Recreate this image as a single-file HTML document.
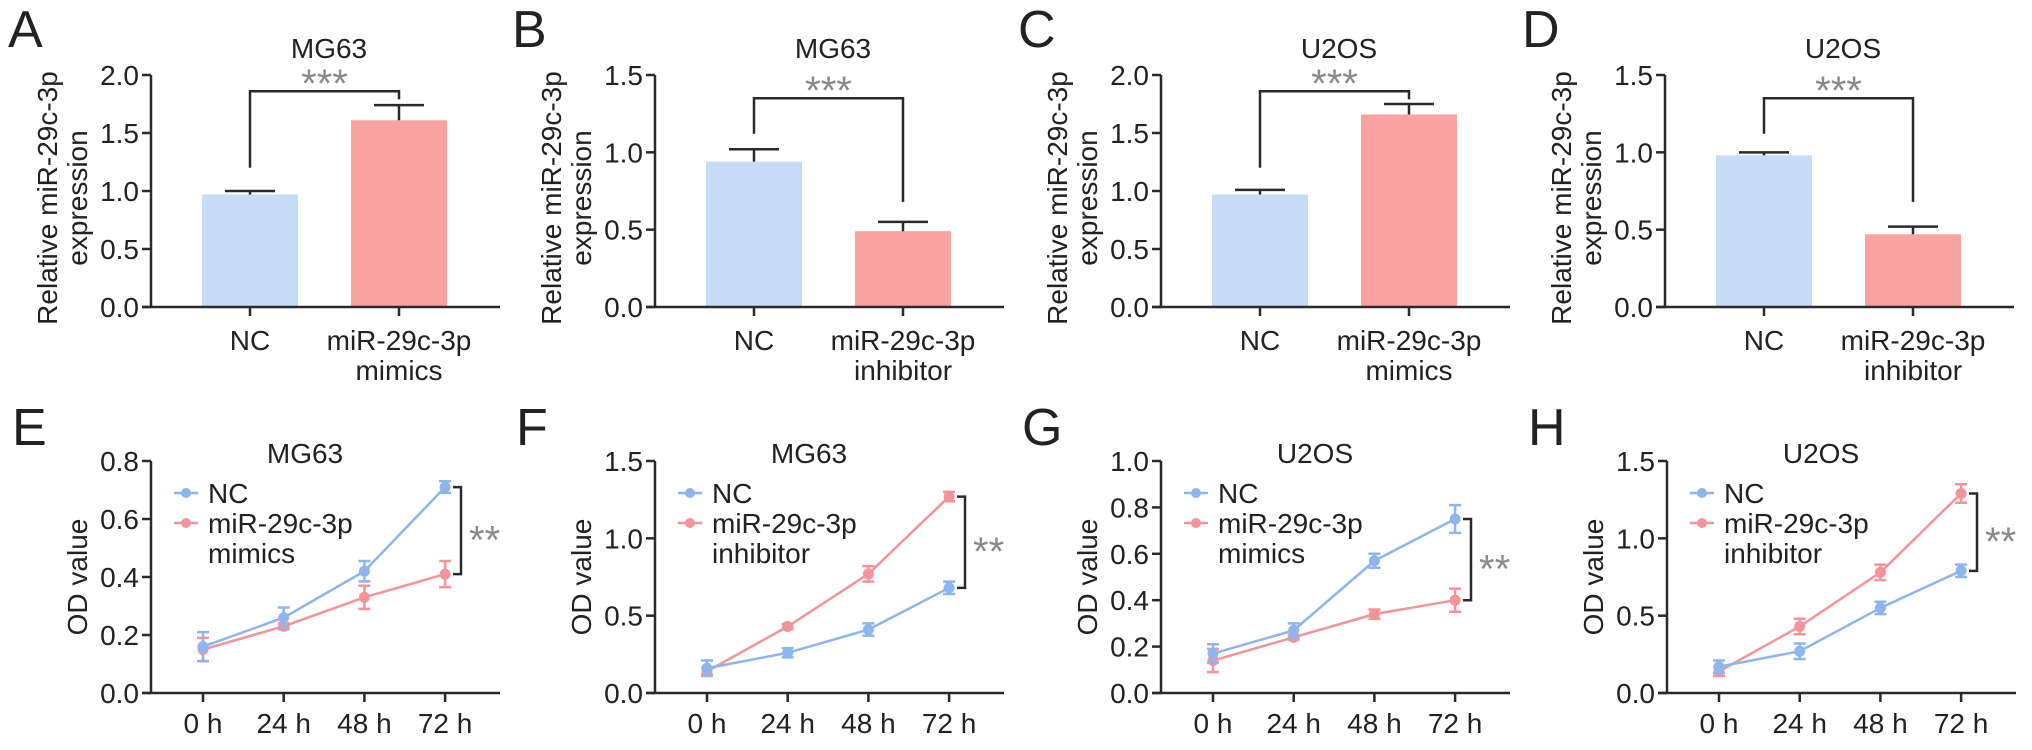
<!DOCTYPE html>
<html><head><meta charset="utf-8">
<style>
body{margin:0;background:#fff;}
svg text{font-family:"Liberation Sans",Arial,sans-serif;fill:#222;}
svg text.star{fill:#8a8a8a;}
</style></head>
<body>
<svg id="fig" width="2032" height="745" viewBox="0 0 2032 745" xmlns="http://www.w3.org/2000/svg"></svg>
<script>
// ---- bar panel data ----
const barLetters = ["A","B","C","D"];
const barTitles = ["MG63","MG63","U2OS","U2OS"];
const barCats = [["NC","miR-29c-3p|mimics"],["NC","miR-29c-3p|inhibitor"],["NC","miR-29c-3p|mimics"],["NC","miR-29c-3p|inhibitor"]];
const barMax = [2.0,1.5,2.0,1.5];
const barTicks = [["0.0","0.5","1.0","1.5","2.0"],["0.0","0.5","1.0","1.5"],["0.0","0.5","1.0","1.5","2.0"],["0.0","0.5","1.0","1.5"]];
const barValues = [[0.97,1.61],[0.94,0.49],[0.97,1.66],[0.98,0.47]];
const barErrors = [[0.03,0.13],[0.08,0.06],[0.04,0.09],[0.02,0.05]];
const barBracket = [1.86,1.35,1.86,1.35];
const bracketLeftEnd = [1.2,1.12,1.2,1.12];
const bracketRightEnd = [1.79,0.68,1.79,0.68];
// ---- line panel data ----
const lineLetters = ["E","F","G","H"];
const lineTitles = ["MG63","MG63","U2OS","U2OS"];
const lineLegend2 = ["mimics","inhibitor","mimics","inhibitor"];
const timeLabels = ["0 h","24 h","48 h","72 h"];
const lineMax = [0.8,1.5,1.0,1.5];
const lineTicks = [["0.0","0.2","0.4","0.6","0.8"],["0.0","0.5","1.0","1.5"],["0.0","0.2","0.4","0.6","0.8","1.0"],["0.0","0.5","1.0","1.5"]];
const ncSeries = [[0.16,0.26,0.42,0.71],[0.16,0.26,0.41,0.68],[0.17,0.27,0.57,0.75],[0.17,0.27,0.55,0.79]];
const ncErr = [[0.05,0.035,0.035,0.02],[0.05,0.03,0.04,0.04],[0.04,0.03,0.03,0.06],[0.04,0.05,0.04,0.04]];
const trSeries = [[0.15,0.23,0.33,0.41],[0.14,0.43,0.77,1.27],[0.14,0.24,0.34,0.40],[0.14,0.43,0.78,1.29]];
const trErr = [[0.04,0.01,0.04,0.045],[0.02,0.015,0.05,0.03],[0.05,0.01,0.02,0.05],[0.03,0.05,0.05,0.06]];

const svg = document.getElementById('fig');
const NS = "http://www.w3.org/2000/svg";
function mk(tag, attrs, parent, txt){
  const e=document.createElementNS(NS,tag);
  for(const k in attrs) e.setAttribute(k,attrs[k]);
  if(txt!==undefined) e.textContent=txt;
  (parent||svg).appendChild(e); return e;
}
const BLUEBAR="#c7dcf7", REDBAR="#f9a3a0", BLUE="#8db5ee", RED="#f4939a", AX="#2a2a2a";
const FS=28;

const barOff=[0,504,1010,1514];
barOff.forEach((ox,i)=>{
  const g=mk('g',{});
  
  
  const ax=ox+151, y0=307, yT=75;
  const y=v=>y0-(v/barMax[i])*(y0-yT);
  const xc=[ox+250, ox+399];
  const l=mk('text',{x:ox+8,y:47,'font-size':52},g,barLetters[i]);
  
  
  const t=mk('text',{x:ox+329,y:58,'font-size':FS,'text-anchor':'middle'},g,barTitles[i]);
  
  
  const yl=mk('text',{transform:`translate(${ox+57},${198}) rotate(-90)`,'font-size':FS,'text-anchor':'middle'},g);
  
  
  mk('tspan',{x:0,dy:0},yl,'Relative miR-29c-3p');
  mk('tspan',{x:0,dy:30},yl,'expression');
  barValues[i].forEach((v,j)=>{
    const w=96;
    const r=mk('rect',{x:xc[j]-w/2,y:y(v),width:w,height:y0-y(v),fill:j?REDBAR:BLUEBAR},g);
    
    
    const e=barErrors[i][j];
    mk('path',{d:`M${xc[j]} ${y(v)}V${y(v+e)}M${xc[j]-25} ${y(v+e)}H${xc[j]+25}`,stroke:AX,'stroke-width':2.5,fill:'none'},g);
  });
  mk('path',{d:`M${ax} ${yT}V${y0}M${ox+142} ${y0}H${ox+500}`,stroke:AX,'stroke-width':2.5,fill:'none'},g);
  barTicks[i].forEach(tk=>{
    const yy=y(parseFloat(tk));
    mk('path',{d:`M${ax-9} ${yy}H${ax}`,stroke:AX,'stroke-width':2.5},g);
    const tt=mk('text',{x:ax-12,y:yy+10,'font-size':FS,'text-anchor':'end'},g,tk);
    
    
  });
  xc.forEach((x,j)=>{
    mk('path',{d:`M${x} ${y0}V${y0+9}`,stroke:AX,'stroke-width':2.5},g);
    barCats[i][j].split('|').forEach((p,k)=>{
      const tt=mk('text',{x:x,y:350+k*30,'font-size':FS,'text-anchor':'middle'},g,p);
      
      
    });
  });
  const yb=y(barBracket[i]);
  mk('path',{d:`M${xc[0]} ${y(bracketLeftEnd[i])}V${yb}H${xc[1]}V${y(bracketRightEnd[i])}`,stroke:AX,'stroke-width':2.5,fill:'none'},g);
  const st=mk('text',{x:(xc[0]+xc[1])/2,y:yb+6,'font-size':40,'text-anchor':'middle','class':'star'},g,'***');
  
  
});

const lineOff=[0,504,1010,1516];
lineOff.forEach((ox,i)=>{
  const g=mk('g',{});
  
  
  const ax=ox+151, y0=693, yT=461;
  const y=v=>y0-(v/lineMax[i])*(y0-yT);
  const x=k=>ox+203+k*80.7;
  const l=mk('text',{x:ox+12,y:445,'font-size':52},g,lineLetters[i]);
  
  
  const t=mk('text',{x:ox+305,y:463,'font-size':FS,'text-anchor':'middle'},g,lineTitles[i]);
  
  
  const yl=mk('text',{transform:`translate(${ox+87},${577}) rotate(-90)`,'font-size':FS,'text-anchor':'middle'},g,'OD value');
  
  
  mk('path',{d:`M${ax} ${yT}V${y0}M${ox+142} ${y0}H${ox+500}`,stroke:AX,'stroke-width':2.5,fill:'none'},g);
  lineTicks[i].forEach(tk=>{
    const yy=y(parseFloat(tk));
    mk('path',{d:`M${ax-9} ${yy}H${ax}`,stroke:AX,'stroke-width':2.5},g);
    const tt=mk('text',{x:ax-12,y:yy+10,'font-size':FS,'text-anchor':'end'},g,tk);
    
    
  });
  timeLabels.forEach((lb,k)=>{
    mk('path',{d:`M${x(k)} ${y0}V${y0+9}`,stroke:AX,'stroke-width':2.5},g);
    const tt=mk('text',{x:x(k),y:733,'font-size':FS,'text-anchor':'middle'},g,lb);
    
    
  });
  [[trSeries,trErr,RED,'series-treatment'],[ncSeries,ncErr,BLUE,'series-nc']].forEach(([S,E,c,nm])=>{
    const vals=S[i], errs=E[i];
    const p=mk('polyline',{points:vals.map((v,k)=>x(k)+','+y(v)).join(' '),fill:'none',stroke:c,'stroke-width':2.5},g);
    
    
    vals.forEach((v,k)=>{
      mk('path',{d:`M${x(k)} ${y(v-errs[k])}V${y(v+errs[k])}M${x(k)-6} ${y(v-errs[k])}H${x(k)+6}M${x(k)-6} ${y(v+errs[k])}H${x(k)+6}`,stroke:c,'stroke-width':2.5,fill:'none'},g);
      const pt=mk('circle',{cx:x(k),cy:y(v),r:5.5,fill:c},g);
      
      
    });
  });
  const a=y(Math.max(ncSeries[i][3],trSeries[i][3])), b=y(Math.min(ncSeries[i][3],trSeries[i][3]));
  const bx=ox+461;
  mk('path',{d:`M${bx-8} ${a}H${bx}V${b}H${bx-8}`,stroke:AX,'stroke-width':2.5,fill:'none'},g);
  const st=mk('text',{x:bx+8,y:(a+b)/2+23,'font-size':40,'class':'star'},g,'**');
  
  
  const lg=mk('g',{},g);
  
  
  mk('path',{d:`M${ox+174} 493H${ox+198}`,stroke:BLUE,'stroke-width':2.5},lg);
  mk('circle',{cx:ox+186,cy:493,r:5,fill:BLUE},lg);
  mk('text',{x:ox+208,y:503,'font-size':FS},lg,'NC');
  mk('path',{d:`M${ox+174} 523H${ox+198}`,stroke:RED,'stroke-width':2.5},lg);
  mk('circle',{cx:ox+186,cy:523,r:5,fill:RED},lg);
  mk('text',{x:ox+208,y:533,'font-size':FS},lg,'miR-29c-3p');
  mk('text',{x:ox+208,y:563,'font-size':FS},lg,lineLegend2[i]);
});
</script>
</body></html>
